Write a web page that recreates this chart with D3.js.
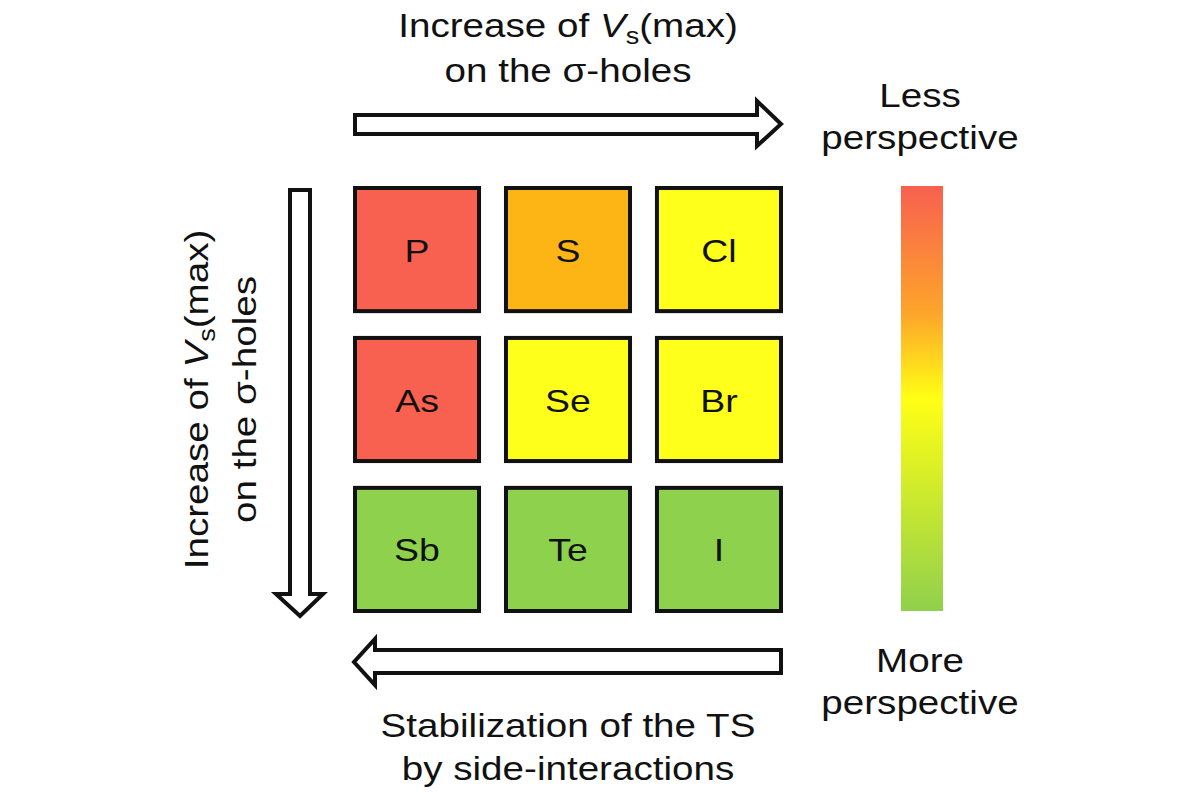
<!DOCTYPE html>
<html>
<head>
<meta charset="utf-8">
<script src="https://cdn.jsdelivr.net/npm/d3@7"></script>
<style>
  html, body { margin: 0; padding: 0; background: #fff; }
  svg { display: block; }
  text { font-family: "Liberation Sans", Arial, sans-serif; fill: #111; }
</style>
</head>
<body>
<svg id="chart" width="1200" height="800"></svg>
<script>
// ---- data ----
const cellLabels = [
  ["P", "S", "Cl"],
  ["As", "Se", "Br"],
  ["Sb", "Te", "I"]
];
// perspective level: 0 = less (red) ... 3 = more (green)
const cellLevels = [
  [0, 1, 2],
  [0, 2, 2],
  [3, 3, 3]
];
const levelColors = ["#f8604f", "#fdb516", "#ffff1c", "#8ed14c"];
const gradientStops = [0, 0.3, 0.5, 1];
const gradientColors = ["#f8604f", "#fda52a", "#ffff14", "#90d04c"];
const topTitle = ["Increase of |V|s|(max)", "on the σ-holes"];
const bottomTitle = ["Stabilization of the TS", "by side-interactions"];
const legendTop = ["Less", "perspective"];
const legendBottom = ["More", "perspective"];

// ---- layout ----
const svg = d3.select("#chart");
const x = d3.scaleBand().domain(d3.range(3)).range([353, 783]).paddingInner(0.152).paddingOuter(0);
const y = d3.scaleBand().domain(d3.range(3)).range([186, 613]).paddingInner(0.152).paddingOuter(0);
const color = d3.scaleOrdinal().domain(d3.range(4)).range(levelColors);
const FS = 33, SX = 1.17;

const cells = [];
cellLabels.forEach((row, r) => row.forEach((lab, c) => cells.push({r, c, lab, lvl: cellLevels[r][c]})));

const g = svg.append("g");
g.selectAll("rect.cell").data(cells).join("rect")
  .attr("class", "cell")
  .attr("x", d => x(d.c) + 2).attr("y", d => y(d.r) + 2)
  .attr("width", x.bandwidth() - 4).attr("height", y.bandwidth() - 4)
  .attr("fill", d => color(d.lvl))
  .attr("stroke", "#111").attr("stroke-width", 4);

g.selectAll("text.lab").data(cells).join("text")
  .attr("class", "lab")
  .attr("transform", d => `translate(${x(d.c) + x.bandwidth() / 2},${y(d.r) + y.bandwidth() / 2 + 12}) scale(${SX},1)`)
  .attr("text-anchor", "middle")
  .attr("font-size", 32)
  .text(d => d.lab);

// title with italic V and subscript s
function richLine(sel, str) {
  const parts = str.split("|");
  if (parts.length === 1) { sel.text(str); return; }
  sel.append("tspan").text(parts[0]);
  sel.append("tspan").attr("font-style", "italic").text(parts[1]);
  sel.append("tspan").attr("font-size", "0.7em").attr("dy", 7).text(parts[2]);
  sel.append("tspan").attr("dy", -7).text(parts[3]);
}
function label(tx, ty, rot, str) {
  svg.append("text")
    .attr("transform", `translate(${tx},${ty})${rot ? " rotate(-90)" : ""} scale(${SX},1)`)
    .attr("text-anchor", "middle").attr("font-size", FS).call(richLine, str);
}

const cx = (x(0) + x(2) + x.bandwidth()) / 2;
topTitle.forEach((t, i) => label(cx, 37 + i * 45, false, t));
bottomTitle.forEach((t, i) => label(cx, 737 + i * 43, false, t));
const cy = (y(0) + y(2) + y.bandwidth()) / 2;
topTitle.forEach((t, i) => label(208 + i * 48, cy, true, t));

// arrows
const line = d3.line();
const arrowStyle = s => s.attr("fill", "#fff").attr("stroke", "#111").attr("stroke-width", 4).attr("stroke-linejoin", "miter");
const x0 = x(0), x1 = x(2) + x.bandwidth();
// top arrow (right)
svg.append("path").attr("d", line([[x0 + 2, 115], [757, 115], [757, 101], [781, 124], [757, 146], [757, 134], [x0 + 2, 134]]) + "Z").call(arrowStyle);
// bottom arrow (left)
svg.append("path").attr("d", line([[x1 - 2, 650], [375, 650], [375, 639], [354, 662], [375, 685], [375, 673], [x1 - 2, 673]]) + "Z").call(arrowStyle);
// left arrow (down)
const y0 = y(0);
svg.append("path").attr("d", line([[290, y0 + 4], [310, y0 + 4], [310, 594], [323, 594], [300, 616], [276, 594], [290, 594]]) + "Z").call(arrowStyle);

// colorbar
const defs = svg.append("defs");
const grad = defs.append("linearGradient").attr("id", "cb").attr("x1", 0).attr("y1", 0).attr("x2", 0).attr("y2", 1);
grad.selectAll("stop").data(gradientStops).join("stop")
  .attr("offset", d => d).attr("stop-color", (d, i) => gradientColors[i]);
svg.append("rect").attr("x", 901).attr("y", 186).attr("width", 42).attr("height", 425).attr("fill", "url(#cb)");

legendTop.forEach((t, i) => label(920, 107 + i * 42, false, t));
legendBottom.forEach((t, i) => label(920, 672 + i * 42, false, t));
</script>
</body>
</html>
